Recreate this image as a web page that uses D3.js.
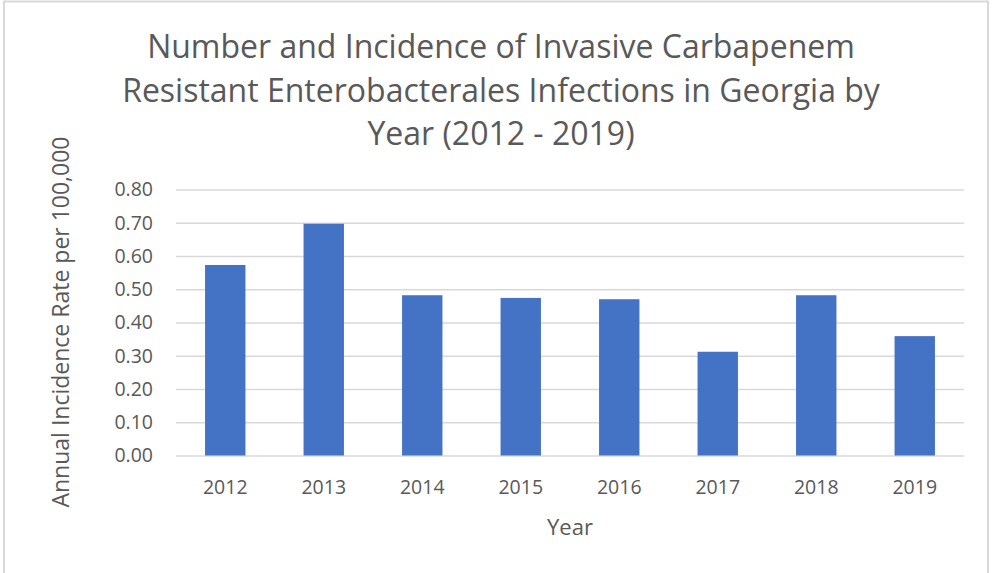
<!DOCTYPE html>
<html>
<head>
<meta charset="utf-8">
<script src="https://cdn.jsdelivr.net/npm/d3@7"></script>
<style>
  body { margin: 0; background: #fff; }
  text { font-family: "Open Sans", "Noto Sans", sans-serif; fill: #595959; }
</style>
</head>
<body>
<div id="chart"></div>
<script>
// data
var years = ["2012", "2013", "2014", "2015", "2016", "2017", "2018", "2019"];
var rates = [0.573, 0.697, 0.482, 0.474, 0.470, 0.312, 0.482, 0.359];
var yTicks = [0, 0.1, 0.2, 0.3, 0.4, 0.5, 0.6, 0.7, 0.8];
var titleLines = [
  "Number and Incidence of Invasive Carbapenem",
  "Resistant Enterobacterales Infections in Georgia by",
  "Year (2012 - 2019)"
];

var svgWidth = 993, svgHeight = 573;
var plot = { left: 176, right: 964, top: 189.5, bottom: 455.5 };

var svg = d3.select("#chart")
  .append("svg")
  .attr("width", svgWidth)
  .attr("height", svgHeight);

// outer frame
svg.append("rect")
  .attr("x", 4).attr("y", 1.5)
  .attr("width", 984).attr("height", 580)
  .attr("fill", "none")
  .attr("stroke", "#d9d9d9")
  .attr("stroke-width", 2);

var xScale = d3.scaleBand()
  .domain(years)
  .range([plot.left, plot.right])
  .paddingInner(0.59)
  .paddingOuter(0.295);

var yScale = d3.scaleLinear()
  .domain([0, 0.8])
  .range([plot.bottom, plot.top]);

// gridlines
var yAxis = d3.axisLeft(yScale)
  .tickValues(yTicks)
  .tickFormat(d3.format(".2f"))
  .tickSize(-(plot.right - plot.left))
  .tickPadding(23);

var gy = svg.append("g")
  .attr("transform", "translate(" + plot.left + ",0)")
  .call(yAxis);
gy.select(".domain").remove();
gy.selectAll(".tick line").attr("stroke", "#d9d9d9").attr("stroke-width", 1.5);
gy.selectAll(".tick text").style("font-size", "19.5px").attr("fill", "#595959");

// bars
svg.selectAll("rect.bar")
  .data(rates)
  .enter()
  .append("rect")
  .attr("class", "bar")
  .attr("x", function(d, i) { return xScale(years[i]); })
  .attr("width", xScale.bandwidth())
  .attr("y", function(d) { return yScale(d); })
  .attr("height", function(d) { return yScale(0) - yScale(d); })
  .attr("fill", "#4472c4");

// x axis
var xAxis = d3.axisBottom(xScale).tickSize(0).tickPadding(25);
var gx = svg.append("g")
  .attr("transform", "translate(0," + plot.bottom + ")")
  .call(xAxis);
gx.select(".domain").remove();
gx.selectAll(".tick text").style("font-size", "19.5px").attr("fill", "#595959");

// title
svg.append("g").selectAll("text")
  .data(titleLines)
  .enter()
  .append("text")
  .attr("x", 501)
  .attr("y", function(d, i) { return 58 + i * 43.5; })
  .attr("text-anchor", "middle")
  .style("font-size", "32px")
  .text(function(d) { return d; });

// axis titles
svg.append("text")
  .attr("x", 570)
  .attr("y", 535)
  .attr("text-anchor", "middle")
  .style("font-size", "22px")
  .text("Year");

svg.append("text")
  .attr("transform", "translate(69,322) rotate(-90)")
  .attr("text-anchor", "middle")
  .style("font-size", "23px")
  .text("Annual Incidence Rate per 100,000");
</script>
</body>
</html>
